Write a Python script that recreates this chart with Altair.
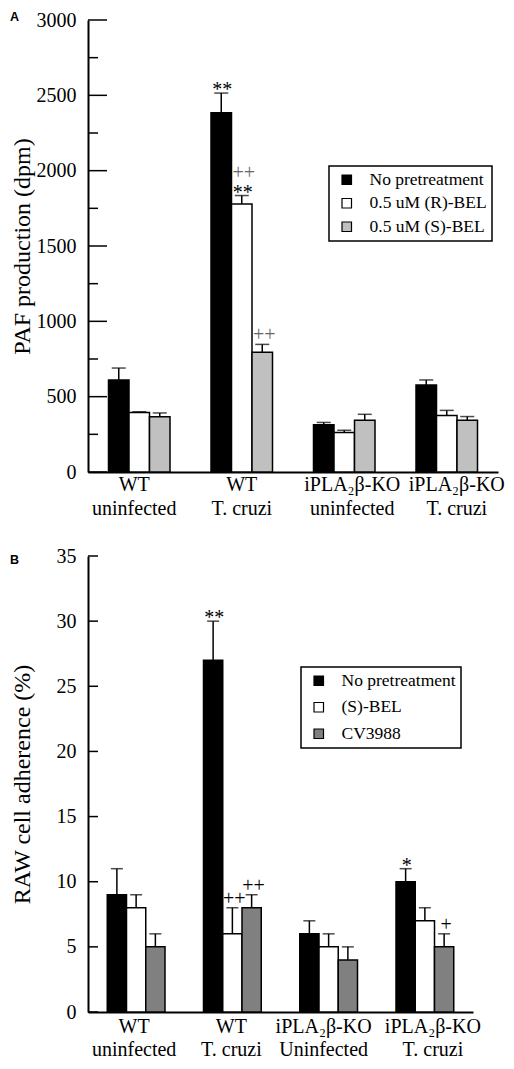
import altair as alt
import pandas as pd

SERIF = "Liberation Serif"

# ---------------- Panel A data ----------------
groups_a = ["WT|uninfected", "WT|T. cruzi", "iPLA₂β-KO|uninfected", "iPLA₂β-KO|T. cruzi"]
series_a = ["No pretreatment", "0.5 uM (R)-BEL", "0.5 uM (S)-BEL"]
colors_a = ["black", "white", "#c0c0c0"]
a_none = [610, 2385, 314, 578]
a_none_err = [690, 2515, 329, 611]
a_rbel = [395, 1778, 262, 375]
a_rbel_err = [400, 1835, 277, 409]
a_sbel = [366, 795, 344, 344]
a_sbel_err = [392, 847, 383, 368]
a_ticks_major = [0, 500, 1000, 1500, 2000, 2500, 3000]
a_ticks_minor = [250, 750, 1250, 1750, 2250, 2750]
a_notes = [
    ("WT|T. cruzi", "No pretreatment", "**", 0),
    ("WT|T. cruzi", "0.5 uM (R)-BEL", "**", 0),
    ("WT|T. cruzi", "0.5 uM (R)-BEL", "++", 1),
    ("WT|T. cruzi", "0.5 uM (S)-BEL", "++", 0),
]

# ---------------- Panel B data ----------------
groups_b = ["WT|uninfected", "WT|T. cruzi", "iPLA₂β-KO|Uninfected", "iPLA₂β-KO|T. cruzi"]
series_b = ["No pretreatment", "(S)-BEL", "CV3988"]
colors_b = ["black", "white", "#808080"]
b_none = [9, 27, 6, 10]
b_none_err = [11, 30, 7, 11]
b_sbel = [8, 6, 5, 7]
b_sbel_err = [9, 8, 6, 8]
b_cv = [5, 8, 4, 5]
b_cv_err = [6, 9, 5, 6]
b_ticks = [0, 5, 10, 15, 20, 25, 30, 35]
b_notes = [
    ("WT|T. cruzi", "No pretreatment", "**", 0),
    ("WT|T. cruzi", "(S)-BEL", "++", 0),
    ("WT|T. cruzi", "CV3988", "++", 0),
    ("iPLA₂β-KO|T. cruzi", "No pretreatment", "*", 0),
    ("iPLA₂β-KO|T. cruzi", "CV3988", "+", 0),
]


def long_df(groups, series, vals, errs):
    rows = []
    for s, v, e in zip(series, vals, errs):
        for g, vv, ee in zip(groups, v, e):
            rows.append({"group": g, "series": s, "value": vv, "err": ee})
    return pd.DataFrame(rows)


def notes_df(notes, df):
    rows = []
    for g, s, t, lvl in notes:
        e = df[(df.group == g) & (df.series == s)]["err"].iloc[0]
        rows.append({"group": g, "series": s, "err": e, "text": t, "level": lvl})
    return pd.DataFrame(rows)


def panel(letter, letter_y, groups, series, colors, df, notes, ymax, major, minor,
          major_len, minor_len, width, height, ytitle, title_pad, offsets,
          line_h, lab_pad, legend_xy, row_pad, cap_size, plus_color):
    xscale = alt.Scale(paddingInner=0, paddingOuter=0)
    conds = [{"test": f"datum.value == '{g}'", "value": o} for g, o in zip(groups, offsets) if o != 0]
    xaxis = alt.Axis(title=None, labelExpr="split(datum.label, '|')", ticks=False,
                     domainWidth=2, domainColor="black", labelFont=SERIF,
                     labelFontSize=20, labelColor="black", labelAngle=0,
                     labelLineHeight=line_h, labelPadding=lab_pad,
                     labelBaseline="top", labelOverlap=False, labelLimit=0,
                     labelOffset={"condition": conds, "value": 0})
    yscale = alt.Scale(domain=[0, ymax], nice=False, zero=True)
    yaxis = alt.Axis(values=major, format="d", ticks=False, grid=False, domainWidth=2,
                     domainColor="black", labelFont=SERIF, labelFontSize=20,
                     labelColor="black", labelPadding=12, title=ytitle,
                     titleFont=SERIF, titleFontSize=24, titleFontWeight="normal",
                     titleColor="black", titlePadding=title_pad)
    xoff = alt.XOffset("series:N", sort=series,
                       scale=alt.Scale(paddingInner=0, paddingOuter=1.0))
    X = alt.X("group:N", sort=groups, scale=xscale, axis=xaxis)

    bars = alt.Chart(df).mark_bar(stroke="black", strokeWidth=1.5).encode(
        x=X, xOffset=xoff,
        y=alt.Y("value:Q", scale=yscale, axis=yaxis),
        fill=alt.Fill("series:N", sort=series,
                      scale=alt.Scale(domain=series, range=colors),
                      legend=alt.Legend(title=None, orient="none",
                                        legendX=legend_xy[0], legendY=legend_xy[1],
                                        strokeColor="black", padding=5,
                                        symbolType="square", symbolSize=90,
                                        symbolOffset=4,
                                        symbolStrokeColor="black", symbolStrokeWidth=1.2,
                                        labelFont=SERIF, labelFontSize=17.5,
                                        labelColor="black", labelOffset=14,
                                        rowPadding=row_pad)),
    )
    ebar = alt.Chart(df).mark_rule(color="black", strokeWidth=1.5).encode(
        x=X, xOffset=xoff,
        y=alt.Y("value:Q", scale=yscale, axis=yaxis), y2="err:Q",
    )
    caps = alt.Chart(df).mark_tick(color="black", size=cap_size, thickness=1.5).encode(
        x=X, xOffset=xoff,
        y=alt.Y("err:Q", scale=yscale, axis=yaxis),
    )
    nd = notes
    stars = alt.Chart(nd).transform_filter("indexof(datum.text, '*') >= 0").mark_text(
        font=SERIF, fontSize=20, color="black", baseline="alphabetic", dy=3, dx=1).encode(
        x=X, xOffset=xoff, y=alt.Y("err:Q", scale=yscale, axis=yaxis), text="text:N")
    plus0 = alt.Chart(nd).transform_filter("indexof(datum.text, '+') >= 0 && datum.level == 0").mark_text(
        font=SERIF, fontSize=20, color=plus_color, baseline="alphabetic", dy=-3, dx=2).encode(
        x=X, xOffset=xoff, y=alt.Y("err:Q", scale=yscale, axis=yaxis), text="text:N")
    plus1 = alt.Chart(nd).transform_filter("indexof(datum.text, '+') >= 0 && datum.level == 1").mark_text(
        font=SERIF, fontSize=20, color=plus_color, baseline="alphabetic", dy=-17, dx=2).encode(
        x=X, xOffset=xoff, y=alt.Y("err:Q", scale=yscale, axis=yaxis), text="text:N")

    tmaj = alt.Chart(pd.DataFrame({"tick": major})).mark_rule(color="black", strokeWidth=1.5).encode(
        y=alt.Y("tick:Q", scale=yscale, axis=yaxis), x=alt.value(0), x2=alt.value(major_len))
    layers = [bars, ebar, caps, stars, plus0, plus1, tmaj]
    if minor:
        tmin = alt.Chart(pd.DataFrame({"tick": minor})).mark_rule(color="black", strokeWidth=1.5).encode(
            y=alt.Y("tick:Q", scale=yscale, axis=yaxis), x=alt.value(0), x2=alt.value(minor_len))
        layers.append(tmin)
    lab = alt.Chart(pd.DataFrame({"letter": [letter]})).mark_text(
        font="Liberation Sans", fontWeight="bold", fontSize=12.5, color="black",
        align="left", baseline="middle").encode(
        text="letter:N", x=alt.value(-78), y=alt.value(letter_y))
    layers.append(lab)
    return alt.layer(*layers).properties(width=width, height=height)


df_a = long_df(groups_a, series_a, [a_none, a_rbel, a_sbel], [a_none_err, a_rbel_err, a_sbel_err])
df_b = long_df(groups_b, series_b, [b_none, b_sbel, b_cv], [b_none_err, b_sbel_err, b_cv_err])

pa = panel("A", -3, groups_a, series_a, colors_a, df_a, notes_df(a_notes, df_a), 3000,
           a_ticks_major, a_ticks_minor, 19, 10, 410, 452, "PAF production (dpm)", 2,
           [-5, 0, 8, 10], 24, 2, (241, 146), 4.5, 14, "#666666")
pb = panel("B", 4, groups_b, series_b, colors_b, df_b, notes_df(b_notes, df_b), 35,
           b_ticks, None, 10, 10, 385, 456, "RAW cell adherence (%)", 22,
           [-2, -1, -5, 8], 23, 4, (213, 111), 7.5, 12, "black")

chart = alt.vconcat(pa, pb, spacing=28).resolve_scale(
    fill="independent", x="independent", y="independent", xOffset="independent"
).resolve_legend(fill="independent").properties(
    padding={"left": 2, "top": 2, "right": 0, "bottom": 0}
).configure_view(stroke=None).configure_legend(strokeWidth=1.5)

chart.save("out.html", embed_options={"renderer": "svg", "actions": False})
